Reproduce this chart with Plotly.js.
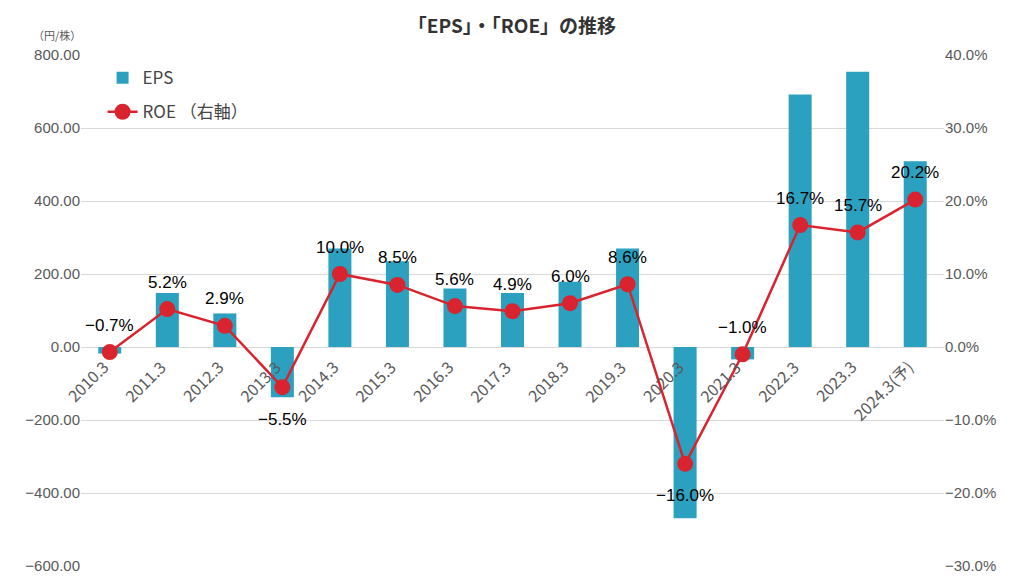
<!DOCTYPE html>
<html>
<head>
<meta charset="utf-8">
<script src="https://cdn.plot.ly/plotly-3.0.1.min.js"></script>
<style>
  body { margin: 0; background: #fff; }
  #graph { width: 1024px; height: 581px; }
</style>
</head>
<body>
<div id="graph"></div>
<script>
// data
var periods = ['2010.3','2011.3','2012.3','2013.3','2014.3','2015.3','2016.3','2017.3',
               '2018.3','2019.3','2020.3','2021.3','2022.3','2023.3','2024.3(予)']
var eps = [-18, 148, 92, -138, 270, 235, 160, 148, 179, 270, -469, -34, 692, 754, 509]
var roe = [-0.7, 5.2, 2.9, -5.5, 10.0, 8.5, 5.6, 4.9, 6.0, 8.6, -16.0, -1.0, 16.7, 15.7, 20.2]
// which ROE labels hang under the marker
var roeLabelBelow = [false, false, false, true, false, false, false, false,
                     false, false, true, false, false, false, false]

var jp = '"Noto Sans CJK JP", "Liberation Sans", sans-serif'
var num = '"Liberation Sans", Arial, sans-serif'
var gray = '#595959'

var trace_eps = {
  x: periods,
  y: eps,
  type: 'bar',
  name: 'EPS',
  legendgroup: 'a',
  width: 0.4,
  marker: {color: '#2BA1BF'},
  hoverinfo: 'skip'
}

var trace_roe = {
  x: periods,
  y: roe,
  yaxis: 'y2',
  type: 'scatter',
  mode: 'lines+markers',
  name: 'ROE （右軸）',
  legendgroup: 'b',
  line: {color: '#D9232E', width: 2.5},
  marker: {color: '#D9232E', size: 16},
  cliponaxis: false
}

var notes = []
// ROE data labels
roe.forEach(function(v, i){
  notes.push({
    x: i, y: v, xref: 'x', yref: 'y2',
    text: v.toFixed(1).replace('-', '−') + '%',
    showarrow: false, yanchor: 'middle',
    yshift: roeLabelBelow[i] ? -32 : 27,
    font: {family: num, size: 17, color: '#000'}
  })
})
// category labels sit just under the zero line, rotated
periods.forEach(function(p, i){
  notes.push({
    x: i, y: 0, xref: 'x', yref: 'y',
    text: p, showarrow: false, textangle: -45,
    xanchor: 'right', yanchor: 'top',
    xshift: 6, yshift: -5,
    font: {family: jp, size: 16, color: gray}
  })
})
notes.push({
  x: 0.0, y: 1.02, xref: 'paper', yref: 'paper', xanchor: 'right', yanchor: 'bottom',
  xshift: 2, text: '（円/株）', showarrow: false,
  font: {family: jp, size: 11, color: gray}
})

var layout = {
  width: 1024,
  height: 581,
  margin: {l: 81, r: 80, t: 55, b: 15},
  paper_bgcolor: '#fff',
  plot_bgcolor: '#fff',
  title: {
    text: '<b>「EPS」・「ROE」の推移</b>',
    x: 0.5, xanchor: 'center', y: 0.955, yanchor: 'middle',
    font: {family: jp, size: 19, color: '#333'}
  },
  showlegend: true,
  legend: {
    x: 0.025, y: 0.99, xanchor: 'left', yanchor: 'top',
    font: {family: jp, size: 17, color: '#444'},
    bgcolor: 'rgba(0,0,0,0)',
    tracegroupgap: 9,
    itemwidth: 30
  },
  xaxis: {
    type: 'category',
    range: [-0.5, 14.5],
    showticklabels: false,
    showgrid: false,
    zeroline: false,
    showline: false,
    ticks: ''
  },
  yaxis: {
    range: [-600, 800],
    dtick: 200,
    tickformat: '.2f',
    showgrid: true,
    gridcolor: '#d9d9d9',
    zeroline: false,
    showline: false,
    ticks: '',
    tickfont: {family: num, size: 15, color: gray},
    automargin: false
  },
  yaxis2: {
    overlaying: 'y',
    side: 'right',
    range: [-30, 40],
    dtick: 10,
    tickformat: '.1f',
    ticksuffix: '%',
    showgrid: false,
    zeroline: false,
    showline: false,
    ticks: '',
    tickfont: {family: num, size: 15, color: gray},
    automargin: false
  },
  annotations: notes
}

Plotly.newPlot('graph', [trace_eps, trace_roe], layout, {displayModeBar: false, staticPlot: true})
</script>
</body>
</html>
